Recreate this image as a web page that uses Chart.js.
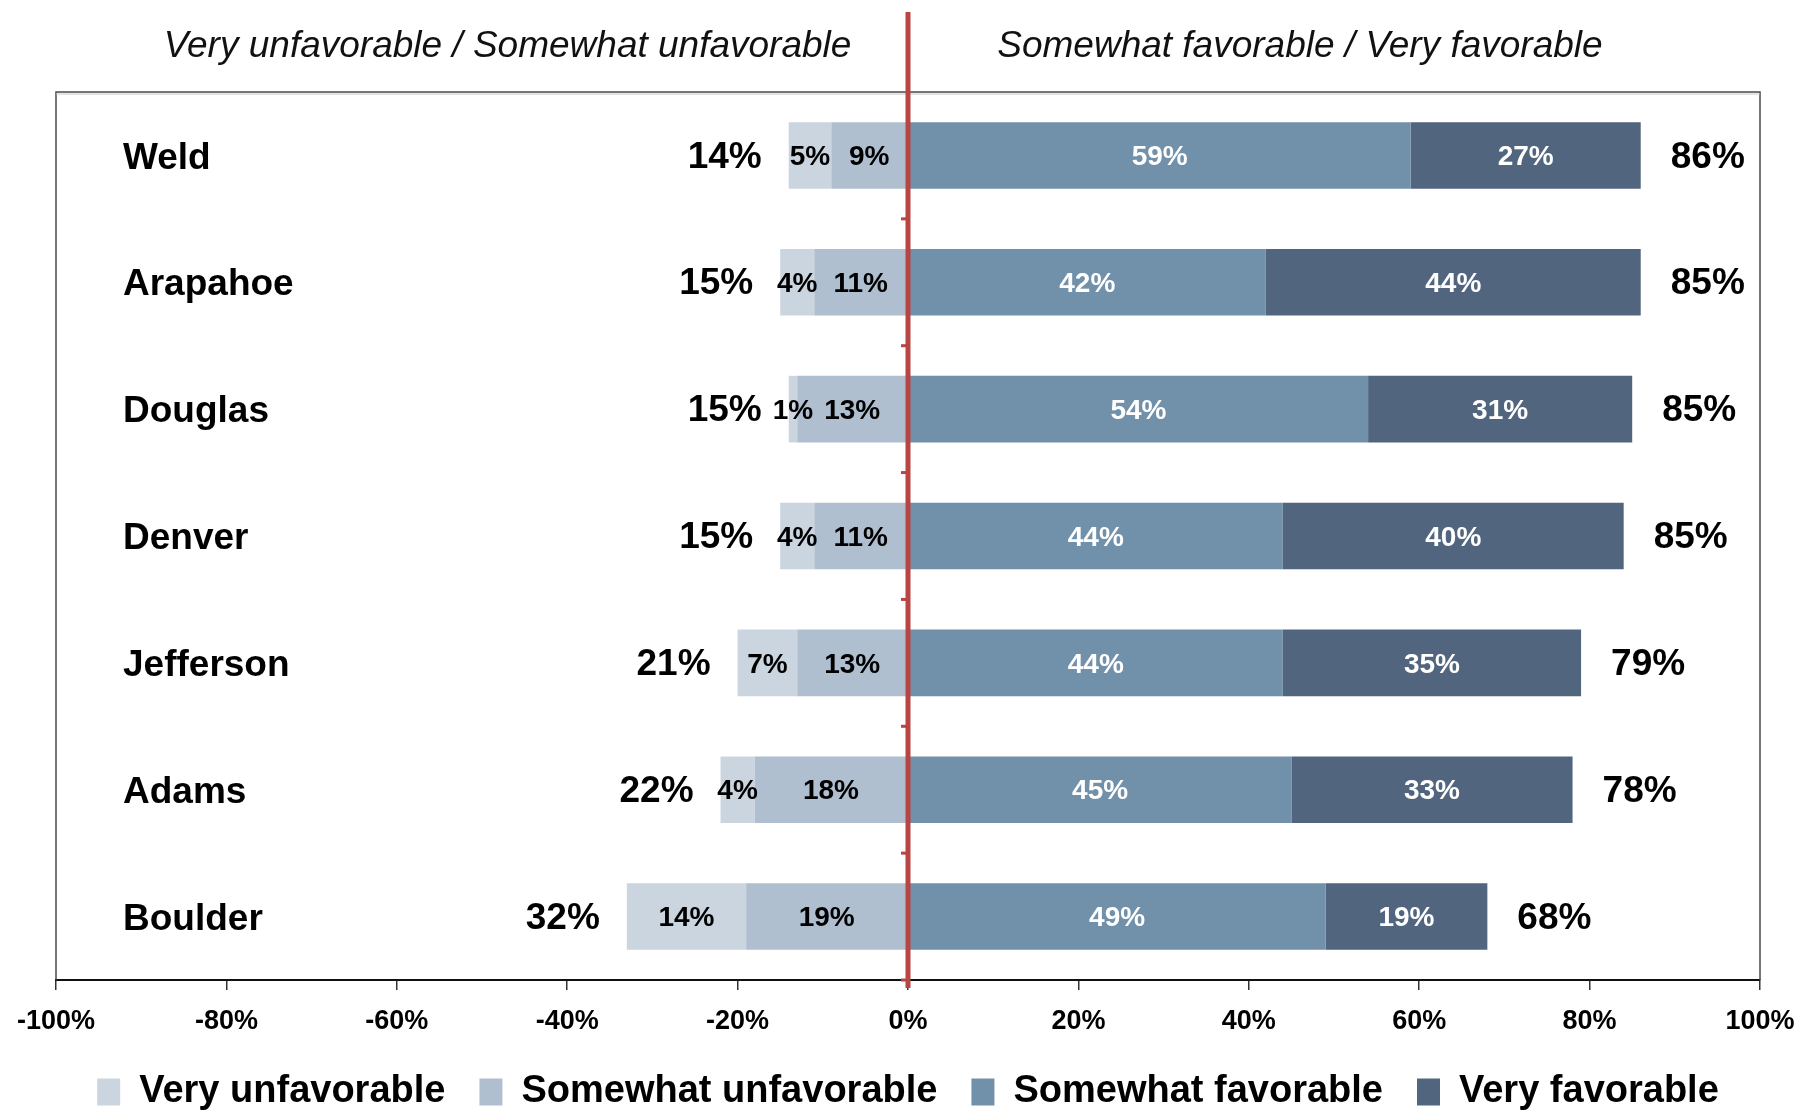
<!DOCTYPE html>
<html>
<head>
<meta charset="utf-8">
<title>County favorability</title>
<script src="https://cdn.jsdelivr.net/npm/chart.js@4.4.1/dist/chart.umd.min.js"></script>
<style>
  html, body { margin: 0; padding: 0; background: #fff; }
  #wrap { width: 1798px; height: 1111px; }
</style>
</head>
<body>
<div id="wrap"><canvas id="favChart" width="1798" height="1111"></canvas></div>
<script>
const counties = ['Weld', 'Arapahoe', 'Douglas', 'Denver', 'Jefferson', 'Adams', 'Boulder'];
const veryUnfavorable = [5, 4, 1, 4, 7, 4, 14];
const somewhatUnfavorable = [9, 11, 13, 11, 13, 18, 19];
const somewhatFavorable = [59, 42, 54, 44, 44, 45, 49];
const veryFavorable = [27, 44, 31, 40, 35, 33, 19];
const unfavorableTotals = [14, 15, 15, 15, 21, 22, 32];
const favorableTotals = [86, 85, 85, 85, 79, 78, 68];
const axisTicks = [-100, -80, -60, -40, -20, 0, 20, 40, 60, 80, 100];

const FONT = '"Liberation Sans", Arial, sans-serif';
const RED = '#b94444';

// unfavourable bars grow left, so they get negative values
const neg = arr => arr.map(v => -v);

// datasets are listed nearest-to-zero first so the stacks build outward;
// legend order is fixed separately below
const datasets = [
    { label: 'Somewhat unfavorable', data: neg(somewhatUnfavorable), backgroundColor: '#b0bfd0', labelColor: '#000' },
    { label: 'Very unfavorable', data: neg(veryUnfavorable), backgroundColor: '#cbd5df', labelColor: '#000' },
    { label: 'Somewhat favorable', data: somewhatFavorable, backgroundColor: '#7190aa', labelColor: '#fff' },
    { label: 'Very favorable', data: veryFavorable, backgroundColor: '#51667e', labelColor: '#fff' }
];
const legendRank = [1, 0, 2, 3];

const overlay = {
    id: 'overlay',
    afterDatasetsDraw(chart) {
        const { ctx, chartArea: a, scales: { x } } = chart;
        ctx.save();

        // value inside every segment
        ctx.font = 'bold 28px ' + FONT;
        ctx.textAlign = 'center';
        ctx.textBaseline = 'middle';
        chart.data.datasets.forEach((ds, di) => {
            chart.getDatasetMeta(di).data.forEach((bar, i) => {
                const c = bar.getCenterPoint();
                ctx.fillStyle = ds.labelColor;
                ctx.fillText(Math.abs(ds.data[i]) + '%', c.x, c.y + 2);
            });
        });

        // totals at both ends of each row
        ctx.font = 'bold 37px ' + FONT;
        ctx.fillStyle = '#000';
        const leftEnds = chart.getDatasetMeta(1).data;
        const rightEnds = chart.getDatasetMeta(3).data;
        counties.forEach((c, i) => {
            ctx.textAlign = 'right';
            ctx.fillText(unfavorableTotals[i] + '%', leftEnds[i].x - 27, leftEnds[i].y + 2);
            ctx.textAlign = 'left';
            ctx.fillText(favorableTotals[i] + '%', rightEnds[i].x + 30, rightEnds[i].y + 2);
        });

        // frame round the plot
        ctx.strokeStyle = '#4a4a4a';
        ctx.lineWidth = 1.5;
        ctx.beginPath();
        ctx.moveTo(a.left, a.bottom);
        ctx.lineTo(a.left, a.top);
        ctx.lineTo(a.right, a.top);
        ctx.lineTo(a.right, a.bottom);
        ctx.stroke();
        ctx.strokeStyle = '#c8c8c8';
        ctx.lineWidth = 1;
        ctx.beginPath();
        ctx.moveTo(a.left, a.top + 2);
        ctx.lineTo(a.right, a.top + 2);
        ctx.stroke();

        // red zero line with small ticks between rows
        const zx = x.getPixelForValue(0);
        ctx.strokeStyle = RED;
        ctx.lineWidth = 5;
        ctx.beginPath();
        ctx.moveTo(zx, 12);
        ctx.lineTo(zx, a.bottom + 8);
        ctx.stroke();
        ctx.lineWidth = 3;
        const step = (a.bottom - a.top) / counties.length;
        for (let k = 1; k <= counties.length; k++) {
            const ty = a.top + k * step;
            ctx.beginPath();
            ctx.moveTo(zx - 7, ty);
            ctx.lineTo(zx, ty);
            ctx.stroke();
        }

        // column headings
        ctx.font = 'italic 37px ' + FONT;
        ctx.fillStyle = '#111';
        ctx.textAlign = 'center';
        ctx.fillText('Very unfavorable / Somewhat unfavorable', x.getPixelForValue(-47), 47);
        ctx.fillText('Somewhat favorable / Very favorable', x.getPixelForValue(46), 47);

        ctx.restore();
    }
};

new Chart(document.getElementById('favChart'), {
    type: 'bar',
    data: { labels: counties, datasets: datasets },
    plugins: [overlay],
    options: {
        indexAxis: 'y',
        responsive: false,
        animation: false,
        layout: { padding: { top: 92, left: 56, right: 38, bottom: -10 } },
        datasets: {
            bar: { categoryPercentage: 1, barPercentage: 0.525, borderWidth: 0 }
        },
        scales: {
            x: {
                stacked: true,
                min: -100,
                max: 100,
                afterBuildTicks: s => { s.ticks = axisTicks.map(v => ({ value: v })); },
                afterFit: s => { s.height = 59; s.paddingLeft = 0; s.paddingRight = 0; },
                border: { display: true, color: '#111', width: 2 },
                grid: { drawOnChartArea: false, drawTicks: true, tickLength: 10, color: '#333', lineWidth: 1.5 },
                ticks: {
                    padding: 15,
                    color: '#000',
                    font: { family: FONT, size: 27, weight: 'bold' },
                    callback: v => v + '%'
                }
            },
            y: {
                stacked: true,
                afterFit: s => { s.width = 0; },
                border: { display: false },
                grid: { display: false },
                ticks: {
                    mirror: true,
                    crossAlign: 'near',
                    padding: 67,
                    labelOffset: 3,
                    color: '#000',
                    font: { family: FONT, size: 37, weight: 'bold' }
                }
            }
        },
        plugins: {
            tooltip: { enabled: false },
            legend: {
                position: 'bottom',
                labels: {
                    boxWidth: 23,
                    boxHeight: 27,
                    padding: 34,
                    color: '#000',
                    font: { family: FONT, size: 38, weight: 'bold' },
                    sort: (a, b) => legendRank[a.datasetIndex] - legendRank[b.datasetIndex]
                }
            }
        }
    }
});
</script>
</body>
</html>
